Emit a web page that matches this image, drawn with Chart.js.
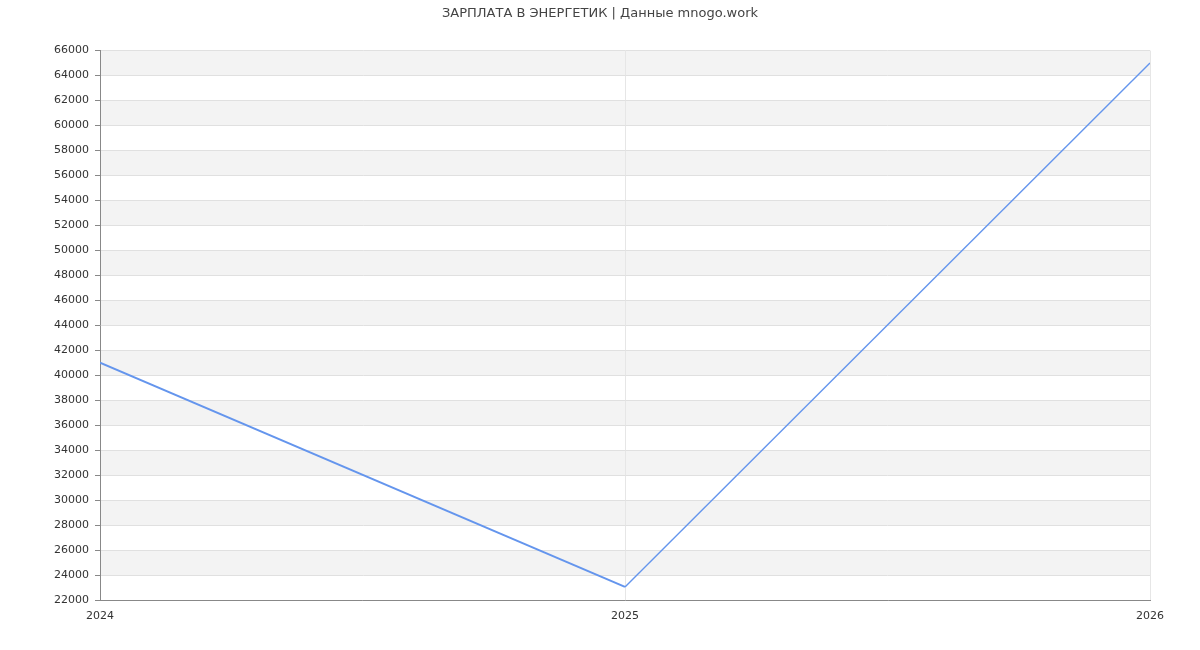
<!DOCTYPE html>
<html>
<head>
<meta charset="utf-8">
<script src="https://cdn.jsdelivr.net/npm/chart.js@4"></script>
<style>
  html, body { margin: 0; padding: 0; background: #fff; }
  #wrap { width: 1200px; height: 650px; }
</style>
</head>
<body>
<div id="wrap"><canvas id="salaryChart" width="1200" height="650"></canvas></div>
<script>
// Данные графика
const years = [2024, 2025, 2026];
const salaries = [41000, 23050, 65000];
const yMin = 22000;
const yMax = 66000;
const yStep = 2000;

const LINE_COLOR = '#6495ed';
const FONT = "'DejaVu Sans', sans-serif";

const points = years.map((y, i) => ({ x: y, y: salaries[i] }));

// Серые полосы между линиями сетки (через одну), рисуем до осей
const bandsPlugin = {
    id: 'bands',
    beforeDraw(chart) {
        const { ctx, chartArea, scales } = chart;
        ctx.save();
        ctx.fillStyle = '#f3f3f3';
        for (let v = yMin + yStep; v < yMax; v += yStep * 2) {
            const top = scales.y.getPixelForValue(v + yStep);
            const bottom = scales.y.getPixelForValue(v);
            ctx.fillRect(chartArea.left, top, chartArea.right - chartArea.left, bottom - top);
        }
        ctx.restore();
    }
};

const ctx = document.getElementById('salaryChart').getContext('2d');

new Chart(ctx, {
    type: 'line',
    data: {
        datasets: [
            // первый отрезок толще, как на оригинале
            { data: points.slice(0, 2), borderColor: LINE_COLOR, borderWidth: 2, pointRadius: 0 },
            { data: points.slice(1), borderColor: LINE_COLOR, borderWidth: 1.4, pointRadius: 0 }
        ]
    },
    options: {
        responsive: false,
        animation: false,
        layout: { padding: 0 },
        plugins: {
            legend: { display: false },
            tooltip: { enabled: false },
            title: {
                display: true,
                text: 'ЗАРПЛАТА В ЭНЕРГЕТИК | Данные mnogo.work',
                color: '#444',
                font: { family: FONT, size: 13, weight: 'normal' },
                padding: { top: 6, bottom: 29 }
            }
        },
        scales: {
            x: {
                type: 'linear',
                min: years[0],
                max: years[years.length - 1],
                ticks: {
                    stepSize: 1,
                    color: '#333',
                    font: { family: FONT, size: 11 },
                    callback: v => String(v),
                    padding: 10
                },
                grid: { color: '#e6e6e6', drawTicks: false },
                border: { color: '#888', width: 1 },
                afterFit: s => { s.height = 50; }
            },
            y: {
                min: yMin,
                max: yMax,
                ticks: {
                    stepSize: yStep,
                    color: '#333',
                    font: { family: FONT, size: 11 },
                    callback: v => String(v),
                    padding: 6
                },
                grid: { color: '#e0e0e0', tickLength: 5, tickColor: '#888' },
                border: { color: '#888', width: 1 },
                afterFit: s => { s.width = 100; }
            },
            // пустая ось справа — только для отступа
            yRight: {
                position: 'right',
                min: yMin,
                max: yMax,
                ticks: { display: false },
                grid: { drawOnChartArea: false, drawTicks: false },
                border: { display: false },
                afterFit: s => { s.width = 50; }
            }
        }
    },
    plugins: [bandsPlugin]
});
</script>
</body>
</html>
